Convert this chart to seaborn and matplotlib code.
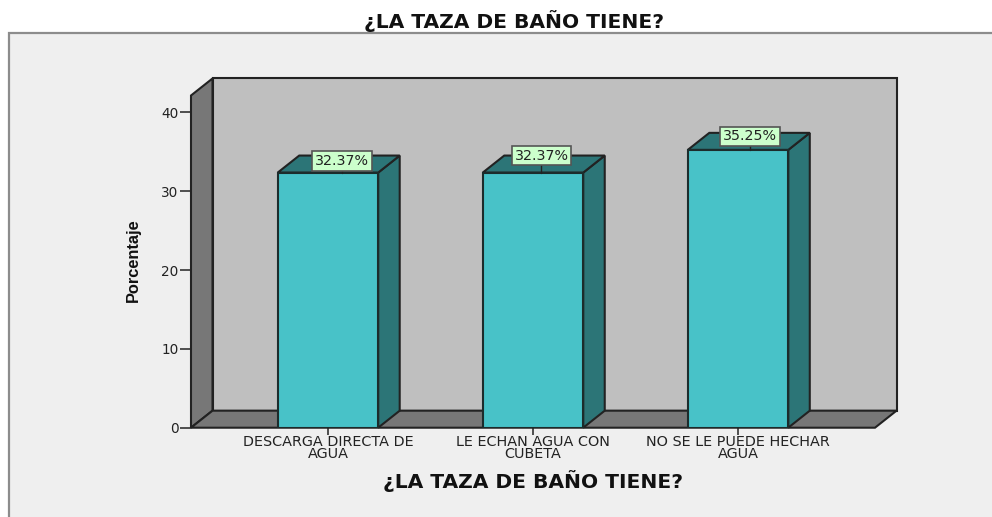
import matplotlib
matplotlib.use('Agg')
import matplotlib.pyplot as plt
import seaborn as sns
import pandas as pd
from matplotlib.patches import Polygon, Rectangle

categorias = ['DESCARGA DIRECTA DE\nAGUA', 'LE ECHAN AGUA CON\nCUBETA', 'NO SE LE PUEDE HECHAR\nAGUA']
porcentajes = [32.37, 32.37, 35.25]
etiquetas = ['32.37%', '32.37%', '35.25%']
yticks = [0, 10, 20, 30, 40]
titulo = '¿LA TAZA DE BAÑO TIENE?'

W, H = 992, 517
sns.set_theme(style='white')
plt.rcParams['font.family'] = ['DejaVu Sans']

fig = plt.figure(figsize=(W / 100, H / 100), dpi=100, facecolor='white')

# panel gris de fondo, se sale por la derecha y por abajo
fig.add_artist(Rectangle((9 / W, -0.02), 1.02, (H - 33) / H + 0.02, transform=fig.transFigure,
                         facecolor='#efefef', edgecolor='#8c8c8c', lw=1.6, zorder=-1))

# plano frontal del grafico en pixeles
x0, x1, y0, y1 = 191, 875, 427.7, 95.5
ax = fig.add_axes([x0 / W, 1 - y0 / H, (x1 - x0) / W, (y0 - y1) / H])
ax.patch.set_visible(False)

df = pd.DataFrame({'cat': categorias, 'pct': porcentajes})
sns.barplot(data=df, x='cat', y='pct', color='#48c2c8', saturation=1, width=0.49,
            edgecolor='#1c2c2c', linewidth=1.5, ax=ax, zorder=5)

xmin, xmax = -0.668, 2.668
ymin, ymax = 0, 42.15
ax.set_xlim(xmin, xmax)
ax.set_ylim(ymin, ymax)
dx, dy = 21.5 / 205, 2.16  # desplazamiento de profundidad

# las etiquetas no caen todas igual sobre la barra (en puntos)
despl_x = [10, 6.1, 8.6]
despl_y = [8.3, 12.2, 9.7]


def cara(puntos, color, z, lw=1.5):
    ax.add_patch(Polygon(puntos, closed=True, facecolor=color, edgecolor='#222222',
                         lw=lw, clip_on=False, zorder=z, joinstyle='miter'))


# paredes
cara([(xmin + dx, dy), (xmax + dx, dy), (xmax + dx, ymax + dy), (xmin + dx, ymax + dy)], '#bfbfbf', 1)
cara([(xmin, 0), (xmin + dx, dy), (xmin + dx, ymax + dy), (xmin, ymax)], '#777777', 2)
cara([(xmin, 0), (xmax, 0), (xmax + dx, dy), (xmin + dx, dy)], '#777777', 2)

# caras superior y lateral de las barras
for i, barra in enumerate(ax.patches[:len(porcentajes)]):
    izq = barra.get_x()
    der = izq + barra.get_width()
    alto = barra.get_height()
    cara([(der, 0), (der + dx, dy), (der + dx, alto + dy), (der, alto)], '#2c7577', 4)
    cara([(izq, alto), (der, alto), (der + dx, alto + dy), (izq + dx, alto + dy)], '#2c7577', 4)
    ax.annotate(etiquetas[i], xy=(i, alto), xytext=(despl_x[i], despl_y[i]), textcoords='offset points',
                ha='center', va='center', fontsize=10.3, color='#222222', zorder=7, annotation_clip=False,
                bbox=dict(boxstyle='square,pad=0.2', facecolor='#ccffcc', edgecolor='#555555', lw=1.2))
    # palito que une la etiqueta con la barra
    ax.plot([i + despl_x[i] * 100 / 72 / 205] * 2, [alto, alto + despl_y[i] * 100 / 72 / 7.88],
            color='#222222', lw=1, zorder=6, clip_on=False)

sns.despine(ax=ax, left=True, bottom=True, top=True, right=True)
ax.set_yticks(yticks)
ax.set_xticks(range(len(categorias)))
ax.set_xticklabels(categorias, fontsize=10.4, color='#222222', linespacing=0.75)
ax.tick_params(axis='y', length=8, width=1.2, color='#333333', labelsize=9.8, labelcolor='#222222', pad=1, left=True)
ax.tick_params(axis='x', length=5, width=1.2, color='#333333', pad=0.5, bottom=True)
ax.set_xlabel('')
ax.set_ylabel('')

fig.text(533 / W, 1 - 481 / H, titulo, ha='center', va='center', fontsize=14.6, fontweight='bold', color='#111111')
fig.text(514 / W, 1 - 21 / H, titulo, ha='center', va='center', fontsize=14.6, fontweight='bold', color='#111111')
fig.text(133 / W, 1 - 260 / H, 'Porcentaje', rotation=90, ha='center', va='center', fontsize=11.8,
         fontweight='bold', color='#111111', family='Liberation Sans')

fig.savefig('out.png', dpi=100, facecolor='white')
